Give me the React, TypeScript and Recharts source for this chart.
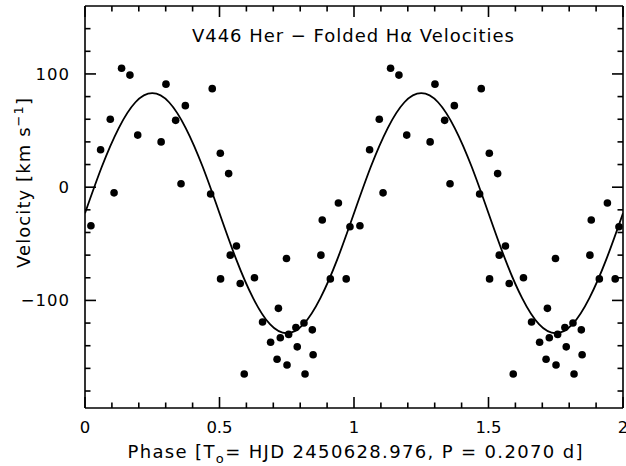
import { ComposedChart, Line, Scatter, XAxis, YAxis, ReferenceLine } from "recharts";

// folded phases (0..1) and H-alpha velocities, km/s
const PHASES = [
  0.022, 0.058, 0.094, 0.108, 0.136, 0.167, 0.196, 0.283, 0.301, 0.337, 0.357,
  0.373, 0.467, 0.473, 0.503, 0.504, 0.534, 0.54, 0.563, 0.577, 0.592, 0.63,
  0.66, 0.69, 0.714, 0.719, 0.726, 0.749, 0.751, 0.757, 0.784, 0.789, 0.814,
  0.818, 0.845, 0.848, 0.877, 0.882, 0.912, 0.942, 0.971, 0.985,
];
const VELOCITIES = [
  -34, 33, 60, -5, 105, 99, 46, 40, 91, 59, 3,
  72, -6, 87, 30, -81, 12, -60, -52, -85, -165, -80,
  -119, -137, -152, -107, -133, -63, -157, -130, -124, -141, -120,
  -165, -126, -148, -60, -29, -81, -14, -81, -35,
];

// fitted orbit curve, read at 1/16 phase steps
const CURVE_PHASES = [
  0, 0.0625, 0.125, 0.1875, 0.25, 0.3125, 0.375, 0.4375, 0.5,
  0.5625, 0.625, 0.6875, 0.75, 0.8125, 0.875, 0.9375, 1,
];
const CURVE_VELOCITIES = [
  -23, 18, 52, 75, 83, 75, 52, 18, -23,
  -64, -98, -121, -129, -121, -98, -64, -23,
];

const X_TICKS = [
  0, 0.1, 0.2, 0.3, 0.4, 0.5, 0.6, 0.7, 0.8, 0.9, 1,
  1.1, 1.2, 1.3, 1.4, 1.5, 1.6, 1.7, 1.8, 1.9, 2,
];
const Y_TICKS = [
  -180, -160, -140, -120, -100, -80, -60, -40, -20, 0,
  20, 40, 60, 80, 100, 120, 140,
];

const W = 626;
const H = 466;
const TOP = 6;
const BOTTOM = 408;
const LEFT = 85;
const RIGHT = 623;
const FONT = "'DejaVu Sans', sans-serif";

// every point is shown twice, at phase and phase + 1
const points = [0, 1].flatMap((c) =>
  PHASES.map((p, i) => ({ phase: p + c, v: VELOCITIES[i] }))
);
const curve = [0, 1].flatMap((c) =>
  CURVE_PHASES.map((p, i) => ({ phase: p + c, v: CURVE_VELOCITIES[i] })).filter(
    (_, i) => c === 0 || i > 0
  )
);

function XTick({ x, payload }: any) {
  const v = payload.value;
  const major = Math.abs(v * 2 - Math.round(v * 2)) < 1e-6;
  const len = major ? 11 : 5.5;
  return (
    <g>
      <line x1={x} x2={x} y1={BOTTOM} y2={BOTTOM - len} stroke="#000" strokeWidth={1.6} />
      <line x1={x} x2={x} y1={TOP} y2={TOP + len} stroke="#000" strokeWidth={1.6} />
      {major && (
        <text x={x} y={BOTTOM + 25} textAnchor="middle" fontSize={16.5} fontFamily={FONT} fill="#000">
          {String(v)}
        </text>
      )}
    </g>
  );
}

function YTick({ y, payload }: any) {
  const v = payload.value;
  const major = v % 100 === 0;
  const len = major ? 11 : 5.5;
  return (
    <g>
      <line x1={LEFT} x2={LEFT + len} y1={y} y2={y} stroke="#000" strokeWidth={1.6} />
      <line x1={RIGHT} x2={RIGHT - len} y1={y} y2={y} stroke="#000" strokeWidth={1.6} />
      {major && (
        <text x={70} y={y + 6} textAnchor="end" fontSize={16.5} fontFamily={FONT} fill="#000" letterSpacing={1}>
          {v < 0 ? "\u2212" + Math.abs(v) : String(v)}
        </text>
      )}
    </g>
  );
}

const dot = (p: any) => <circle cx={p.cx} cy={p.cy} r={3.8} fill="#000" />;

export default function App() {
  return (
    <div style={{ position: "absolute", left: 0, top: 0, width: W, height: H, background: "#fff" }}>
      <ComposedChart width={W} height={H} margin={{ top: TOP, right: W - RIGHT, bottom: 0, left: 0 }}>
        <XAxis
          dataKey="phase"
          type="number"
          domain={[0, 2]}
          ticks={X_TICKS}
          interval={0}
          allowDataOverflow
          height={H - BOTTOM}
          tickSize={0}
          tickMargin={0}
          tick={<XTick />}
          tickLine={false}
          axisLine={{ stroke: "#000", strokeWidth: 1.6 }}
        />
        <YAxis
          dataKey="v"
          type="number"
          domain={[-195, 160]}
          ticks={Y_TICKS}
          interval={0}
          allowDataOverflow
          width={LEFT}
          tickSize={0}
          tickMargin={0}
          tick={<YTick />}
          tickLine={false}
          axisLine={{ stroke: "#000", strokeWidth: 1.6 }}
        />
        <ReferenceLine y={160} stroke="#000" strokeWidth={1.6} />
        <ReferenceLine x={2} stroke="#000" strokeWidth={1.6} />
        <Line
          data={curve}
          dataKey="v"
          type="natural"
          stroke="#000"
          strokeWidth={1.8}
          dot={false}
          activeDot={false}
          isAnimationActive={false}
        />
        <Scatter data={points} dataKey="v" fill="#000" shape={dot} isAnimationActive={false} />
      </ComposedChart>
      <svg width={W} height={H} style={{ position: "absolute", left: 0, top: 0, pointerEvents: "none" }}>
        <text x={353} y={42} textAnchor="middle" fontSize={18} fontFamily={FONT} textLength={322} lengthAdjust="spacing">
          V446 Her {"\u2212"} Folded H{"\u03b1"} Velocities
        </text>
        <text x={355} y={458} textAnchor="middle" fontSize={18} fontFamily={FONT} textLength={455} lengthAdjust="spacing">
          Phase [T<tspan fontSize={13} dy={5}>o</tspan>
          <tspan dy={-5}>= HJD 2450628.976, P = 0.2070 d]</tspan>
        </text>
        <text
          transform="translate(30,183) rotate(-90)"
          textAnchor="middle"
          fontSize={18}
          fontFamily={FONT}
          textLength={170}
          lengthAdjust="spacing"
        >
          Velocity [km s<tspan fontSize={13} dy={-7}>{"\u2212"}1</tspan>
          <tspan dy={7}>]</tspan>
        </text>
      </svg>
    </div>
  );
}
